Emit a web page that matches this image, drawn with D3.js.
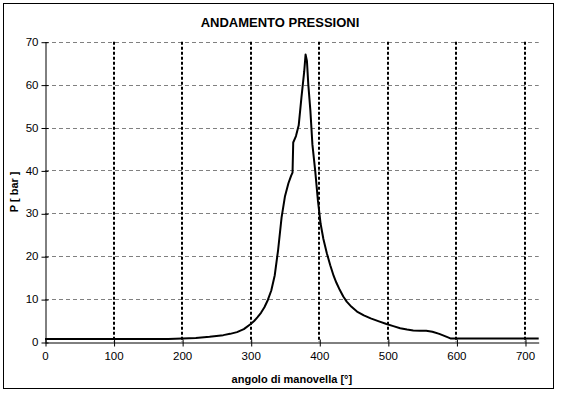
<!DOCTYPE html>
<html>
<head>
<meta charset="utf-8">
<script src="https://cdn.jsdelivr.net/npm/d3@7"></script>
<style>
body { margin:0; background:#fff; }
text { font-family: Arial, "Liberation Sans", sans-serif; }
</style>
</head>
<body>
<svg id="chart" width="561" height="394"></svg>
<script>
// crank angle [deg] and cylinder pressure [bar]
var angolo   = [0, 100, 180, 200, 220, 240, 260, 270, 280, 290, 300, 305, 310, 315, 320, 325, 330, 335, 340, 345, 350, 355, 359, 361, 362, 366, 370, 374, 378, 380, 382, 384, 387, 390, 394, 398, 402, 406, 411, 416, 421, 425, 430, 435, 440, 447, 455, 465, 475, 487, 498, 508, 518, 528, 537, 547, 556, 565, 575, 586, 592, 650, 720];
var pressione = [0.7, 0.7, 0.7, 0.8, 0.95, 1.2, 1.6, 1.9, 2.3, 3.0, 4.2, 4.9, 5.8, 6.8, 8.1, 9.8, 12, 15.5, 21.5, 29, 34, 37, 38.8, 39.5, 46.5, 48, 50.5, 57, 63, 67, 65.5, 60, 54, 46, 40, 33, 27.5, 24, 20.7, 17.9, 15.4, 13.8, 12.1, 10.6, 9.4, 8.2, 7.1, 6.2, 5.5, 4.8, 4.2, 3.7, 3.2, 2.9, 2.7, 2.6, 2.6, 2.4, 1.9, 1.2, 0.8, 0.8, 0.8];
var xTicks = [0, 100, 200, 300, 400, 500, 600, 700];
var yTicks = [0, 10, 20, 30, 40, 50, 60, 70];

var svg = d3.select("#chart");

//outer frame of the chart
svg.append("rect")
   .attr("x",3.5)
   .attr("y",3.5)
   .attr("width",550)
   .attr("height",385)
   .attr("fill","#fff")
   .attr("stroke","#000")
   .attr("stroke-width",1);

var plotLeft = 45, plotTop = 41.7, plotBottom = 342;
var x = d3.scaleLinear().domain([0,720]).range([plotLeft, plotLeft+720*0.6857]);
var y = d3.scaleLinear().domain([0,70]).range([plotBottom, plotTop]);

var g = svg.append("g");

//horizontal grey dashed grid
g.selectAll(".hgrid")
 .data(yTicks.filter(function(d){ return d>0; }))
 .enter().append("line")
 .attr("class","hgrid")
 .attr("x1",x(0))
 .attr("x2",x(720))
 .attr("y1",function(d){ return Math.round(y(d))+0.5; })
 .attr("y2",function(d){ return Math.round(y(d))+0.5; })
 .attr("stroke","#808080")
 .attr("stroke-width",1)
 .attr("stroke-dasharray","4,3");

//vertical black dotted grid
g.selectAll(".vgrid")
 .data(xTicks.filter(function(d){ return d>0; }))
 .enter().append("line")
 .attr("class","vgrid")
 .attr("x1",function(d){ return Math.round(x(d)); })
 .attr("x2",function(d){ return Math.round(x(d)); })
 .attr("y1",y(70))
 .attr("y2",y(0))
 .attr("stroke","#000")
 .attr("stroke-width",2)
 .attr("stroke-dasharray","3,2");

//axes, ticks cross the axis line
var xAxis = g.append("g")
             .attr("transform","translate(0,"+(plotBottom+0.5)+")")
             .call(d3.axisBottom(x).tickValues(xTicks).tickSize(4).tickSizeOuter(0));
xAxis.selectAll(".tick line").attr("y1",-3).attr("transform","translate(0.5,0)");
xAxis.selectAll(".tick text").attr("y",9).attr("font-size","11.5px").attr("font-family","Arial, 'Liberation Sans', sans-serif");

var yAxis = g.append("g")
             .attr("transform","translate("+(plotLeft+0.5)+",0)")
             .call(d3.axisLeft(y).tickValues(yTicks).tickSize(4).tickSizeOuter(0));
yAxis.selectAll(".tick line").attr("x1",3).attr("transform","translate(0,0.5)");
yAxis.selectAll(".tick text").attr("x",-7).attr("font-size","11.5px").attr("font-family","Arial, 'Liberation Sans', sans-serif");
svg.selectAll(".domain").attr("stroke","#000");

//pressure curve (straight segments like the original)
var line = d3.line()
             .x(function(d){ return x(d[0]); })
             .y(function(d){ return y(d[1]); });

g.append("path")
 .datum(d3.zip(angolo, pressione))
 .attr("d",line)
 .attr("fill","none")
 .attr("stroke","#000")
 .attr("stroke-width",2)
 .attr("stroke-linejoin","round");

//titles
svg.append("text")
   .attr("x",280)
   .attr("y",27)
   .attr("text-anchor","middle")
   .attr("font-size","13px")
   .attr("font-weight","bold")
   .text("ANDAMENTO PRESSIONI");

svg.append("text")
   .attr("x",(x(0)+x(720))/2)
   .attr("y",383)
   .attr("text-anchor","middle")
   .attr("font-size","11px")
   .attr("font-weight","bold")
   .text("angolo di manovella [°]");

svg.append("text")
   .attr("transform","translate(18,"+((plotTop+plotBottom)/2)+")rotate(-90)")
   .attr("text-anchor","middle")
   .attr("font-size","11px")
   .attr("font-weight","bold")
   .text("P [ bar ]");
</script>
</body>
</html>
